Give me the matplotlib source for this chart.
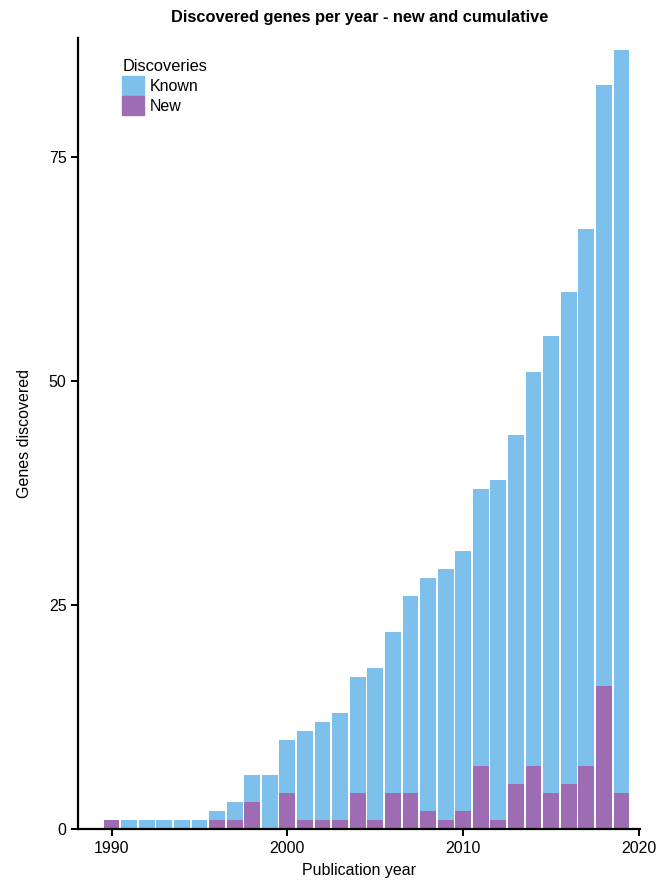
import matplotlib
matplotlib.use('Agg')
import matplotlib.pyplot as plt
from matplotlib.patches import Patch

plt.rcParams['font.family'] = ['Liberation Sans', 'DejaVu Sans']

years = list(range(1990, 2020))
# cumulative total of genes known by each year
known = [1, 1, 1, 1, 1, 1, 2, 3, 6, 6,
         10, 11, 12, 13, 17, 18, 22, 26, 28, 29,
         31, 38, 39, 44, 51, 55, 60, 67, 83, 87]
# genes newly discovered in that year
new = [1, 0, 0, 0, 0, 0, 1, 1, 3, 0,
       4, 1, 1, 1, 4, 1, 4, 4, 2, 1,
       2, 7, 1, 5, 7, 4, 5, 7, 16, 4]

blue = '#7DC0EB'
purple = '#9D6CB2'

fig = plt.figure(figsize=(6.57, 8.83), dpi=100)
ax = fig.add_axes([0.119, 0.061, 0.855, 0.896])

ax.bar(years, known, width=0.9, color=blue, linewidth=0)
ax.bar(years, new, width=0.9, color=purple, linewidth=0)

ax.set_xlim(1988.1, 2020.05)
ax.set_ylim(0, 88.3)
ax.set_xticks([1990, 2000, 2010, 2020])
ax.set_yticks([0, 25, 50, 75])

for s in ['top', 'right']:
    ax.spines[s].set_visible(False)
for s in ['left', 'bottom']:
    ax.spines[s].set_linewidth(1.6)
ax.tick_params(axis='both', length=5, width=1.4, labelsize=11.5, pad=3.5)

ax.set_xlabel('Publication year', fontsize=11.5, labelpad=5)
ax.set_ylabel('Genes discovered', fontsize=11.5, labelpad=12)
fig.suptitle('Discovered genes per year - new and cumulative',
             x=0.547, y=0.989, fontsize=11.8, fontweight='bold')

handles = [Patch(color=blue, label='Known'), Patch(color=purple, label='New')]
leg = ax.legend(handles=handles, title='Discoveries', loc='upper left',
                bbox_to_anchor=(0.186, 0.933), bbox_transform=fig.transFigure,
                frameon=False, fontsize=11.5, title_fontsize=11.8,
                handlelength=1.35, handleheight=1.4, handletextpad=0.35,
                labelspacing=0.12, borderpad=0, borderaxespad=0)
leg._legend_box.align = 'left'

fig.savefig('out.png', dpi=100)
